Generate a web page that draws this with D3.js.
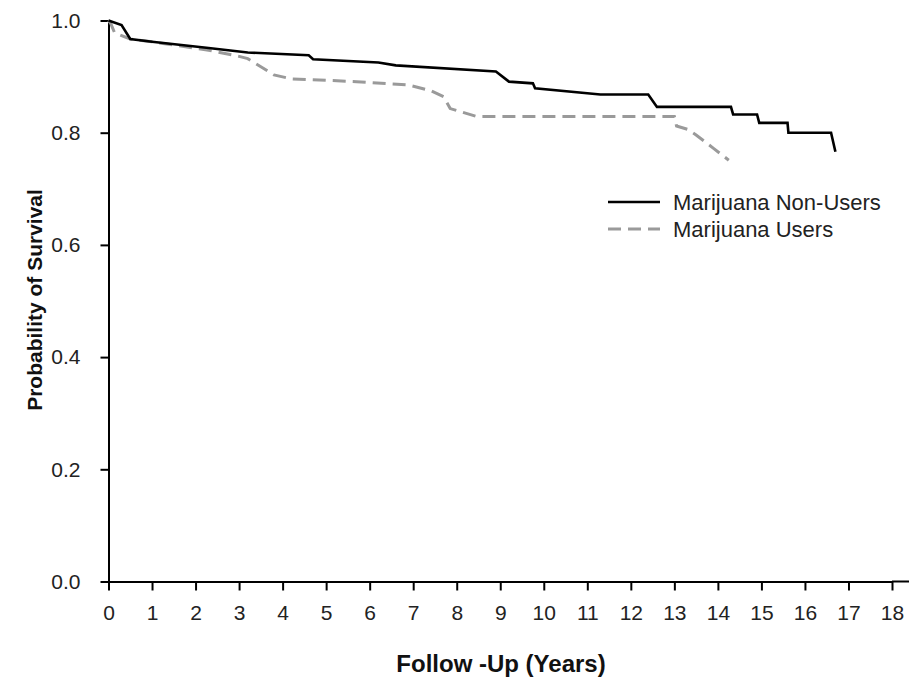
<!DOCTYPE html>
<html>
<head>
<meta charset="utf-8">
<script src="https://cdn.jsdelivr.net/npm/d3@7"></script>
<style>
  body { margin: 0; background: #fff; }
  svg { display: block; font-family: "Liberation Sans", Arial, sans-serif; }
</style>
</head>
<body>
<svg id="chart" width="909" height="681"></svg>
<script>
// follow-up time (years) and survival probability
const nonUserTime = [0, 0.3, 0.5, 1.0, 2.3, 3.2, 4.6, 4.7, 6.2, 6.6, 8.9, 9.2, 9.75, 9.8, 11.3, 12.4, 12.6, 14.3, 14.35, 14.9, 14.95, 15.6, 15.62, 16.6, 16.7];
const nonUserSurv = [1.0, 0.992, 0.967, 0.962, 0.951, 0.943, 0.938, 0.931, 0.925, 0.920, 0.909, 0.891, 0.888, 0.879, 0.868, 0.868, 0.846, 0.846, 0.8325, 0.8325, 0.8175, 0.8175, 0.800, 0.800, 0.766];

const userTime = [0, 0.05, 0.14, 0.5, 1.0, 2.3, 3.0, 3.2, 3.8, 4.2, 5.7, 6.9, 7.4, 7.7, 7.85, 8.45, 13.0, 13.05, 13.3, 13.5, 13.7, 13.9, 14.25];
const userSurv = [1.0, 0.995, 0.978, 0.967, 0.962, 0.947, 0.936, 0.932, 0.903, 0.896, 0.891, 0.885, 0.875, 0.864, 0.843, 0.829, 0.829, 0.812, 0.806, 0.796, 0.784, 0.772, 0.751];

const xTicks = d3.range(0, 19);
const yTicks = [0, 0.2, 0.4, 0.6, 0.8, 1.0];
const seriesNames = ['Marijuana Non-Users', 'Marijuana Users'];

const svg = d3.select('#chart');
const width = 909;

const x = d3.scaleLinear().domain([0, 18]).range([108.5, 892]);
const y = d3.scaleLinear().domain([0, 1]).range([581.5, 20.5]);

// y axis
const yAxis = svg.append('g')
  .attr('transform', 'translate(108.5,0)')
  .call(d3.axisLeft(y).tickValues(yTicks).tickFormat(d3.format('.1f')).tickSize(8).tickSizeOuter(0).tickPadding(20));

// x axis
const xAxis = svg.append('g')
  .attr('transform', 'translate(0,581.5)')
  .call(d3.axisBottom(x).tickValues(xTicks).tickSize(9).tickSizeOuter(0).tickPadding(15));

xAxis.append('line')
  .attr('class', 'extend')
  .attr('x1', x(18)).attr('x2', width)
  .attr('stroke', '#000')
  .attr('stroke-width', 2);

svg.selectAll('.domain').attr('stroke', '#000').attr('stroke-width', 2);
svg.selectAll('.tick line').attr('stroke', '#000').attr('stroke-width', 2);
svg.selectAll('.tick text')
  .attr('fill', '#222')
  .style('font-size', '21px')
  .style('font-family', '"Liberation Sans", Arial, sans-serif');

// axis titles
svg.append('text')
  .attr('x', 501)
  .attr('y', 672)
  .attr('text-anchor', 'middle')
  .style('font-size', '24px')
  .style('font-weight', 'bold')
  .attr('fill', '#111')
  .text('Follow -Up (Years)');

svg.append('text')
  .attr('transform', 'translate(42,300) rotate(-90)')
  .attr('text-anchor', 'middle')
  .style('font-size', '21px')
  .style('font-weight', 'bold')
  .attr('fill', '#111')
  .text('Probability of Survival');

// curves
const line = d3.line()
  .x(d => x(d[0]))
  .y(d => y(d[1]))
  .curve(d3.curveLinear);

const users = d3.zip(userTime, userSurv);
const nonUsers = d3.zip(nonUserTime, nonUserSurv);

svg.append('path')
  .datum(users)
  .attr('d', line)
  .attr('fill', 'none')
  .attr('stroke', '#9a9a9a')
  .attr('stroke-width', 3)
  .attr('stroke-dasharray', '13,7');

svg.append('path')
  .datum(nonUsers)
  .attr('d', line)
  .attr('fill', 'none')
  .attr('stroke', '#000')
  .attr('stroke-width', 2.6);

// legend
const legend = svg.append('g').attr('transform', 'translate(608,202)');
const styles = [
  { stroke: '#000', width: 2.6, dash: null },
  { stroke: '#9a9a9a', width: 3, dash: '13,7' }
];
seriesNames.forEach((name, i) => {
  const row = legend.append('g').attr('transform', `translate(0,${i * 27})`);
  row.append('line')
    .attr('x1', 0).attr('x2', 52)
    .attr('stroke', styles[i].stroke)
    .attr('stroke-width', styles[i].width)
    .attr('stroke-dasharray', styles[i].dash);
  row.append('text')
    .attr('x', 65)
    .attr('y', 8)
    .style('font-size', '22px')
    .attr('fill', '#222')
    .text(name);
});
</script>
</body>
</html>
